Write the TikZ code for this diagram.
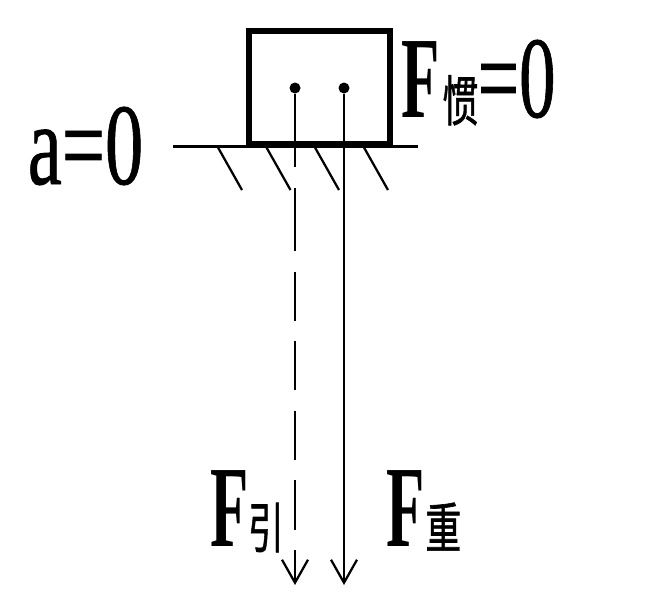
\documentclass[tikz,border=0pt]{standalone}
\usepackage{fontspec}
\setmainfont{Liberation Serif}
\newfontfamily\cjk[FakeBold=1.2]{Noto Sans CJK SC}
\newfontface\heavy[FakeBold=0.8]{Liberation Serif}
\usetikzlibrary{arrows.meta}
\tikzset{
  bodybox/.style={draw,line width=0.115cm,minimum width=2.82cm,minimum height=2.27cm,inner sep=0pt},
  forcedot/.style={circle,fill=black,inner sep=0pt,minimum size=0.22cm},
  forcetip/.style={-{Straight Barb[length=0.46cm,width=0.52cm,line width=0.045cm]}},
  biglabel/.style={inner sep=0pt,anchor=base west},
}
\newcommand{\capF}{\scalebox{0.54}[1]{\fontsize{66}{66}\selectfont\bfseries F}}
\newcommand{\bigtext}[2][0.63]{\scalebox{#1}[1]{\fontsize{66}{66}\selectfont\heavy #2}}
\newcommand{\subtext}[1]{\scalebox{0.66}[1]{\fontsize{31}{31}\selectfont\cjk #1}}
\begin{document}
\begin{tikzpicture}
\useasboundingbox (0,0) rectangle (13.16,-12);

\node[bodybox] (body) at (6.39,-1.75) {};
\coordinate (groundL) at (3.46,-2.93);
\coordinate (groundR) at (8.36,-2.93);
\draw[line width=0.045cm] (groundL)--(groundR);

% hatching under the ground
\foreach \x in {4.36,5.33,6.30,7.28}
  \draw[line width=0.045cm] (\x,-2.95)--(\x+0.48,-3.8);

\node[forcedot] (dotpull) at (5.90,-1.76) {};
\node[forcedot] (dotweight) at (6.88,-1.76) {};
\coordinate (endpull) at (5.90,-11.7);
\coordinate (endweight) at (6.88,-11.7);

\draw[line width=0.05cm,dash pattern=on 1.47cm off 0.42cm on 1.26cm off 0.41cm on 0.98cm off 0.41cm on 0.98cm off 0.41cm on 0.98cm off 0.41cm on 1cm off 0.4cm on 2cm off 0cm,forcetip] (dotpull)--(endpull);
\draw[line width=0.05cm,forcetip] (dotweight)--(endweight);

\node[biglabel] (labelinertia) at (8.03,-2.34) {\capF};
\node[biglabel] (subinertia) at (8.84,-2.42) {\subtext{惯}};
\node[biglabel] (zeroinertia) at (9.55,-2.34) {\bigtext{=0}};
\node[biglabel] (labela) at (0.55,-3.68) {\bigtext[0.66]{a=0}};
\node[biglabel] (labelpull) at (4.2,-10.92) {\capF};
\node[biglabel] (subpull) at (4.95,-10.96) {\subtext{引}};
\node[biglabel] (labelweight) at (7.72,-10.92) {\capF};
\node[biglabel] (subweight) at (8.5,-10.96) {\subtext{重}};
\end{tikzpicture}
\end{document}
